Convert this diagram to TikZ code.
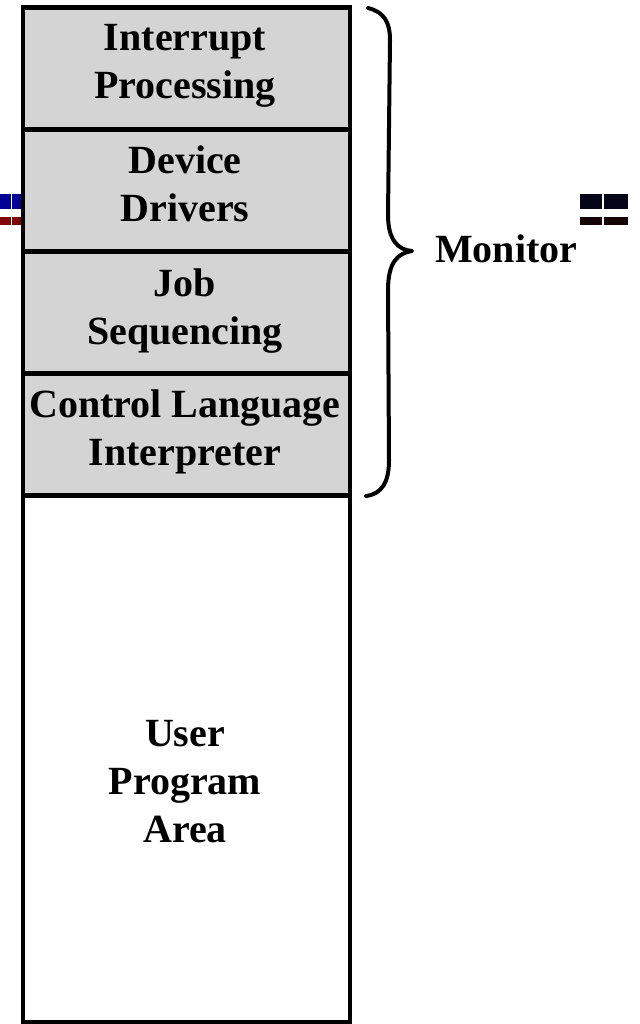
\documentclass[tikz,border=0pt]{standalone}
\usepackage{fontspec}
\setmainfont{Liberation Serif}
\begin{document}
\begin{tikzpicture}[x=1pt,y=-1pt,
  layer/.style={draw=black,line width=4.5pt,fill=cellgray,minimum width=327pt,inner sep=0pt,outer sep=0pt,anchor=north},
  usr/.style={draw=black,line width=4.5pt,fill=white,minimum width=327pt,inner sep=0pt,outer sep=0pt,anchor=north},
  lbl/.style={font=\fontsize{40}{48}\selectfont\bfseries,align=center,inner sep=0pt},
  bracestroke/.style={line width=4pt,line cap=round,line join=round}]
\definecolor{cellgray}{RGB}{212,212,212}
\definecolor{markblue}{RGB}{0,0,150}
\definecolor{markred}{RGB}{130,0,0}
\definecolor{marknavy}{RGB}{5,5,25}
\definecolor{markbrown}{RGB}{22,5,5}
\useasboundingbox (0,0) rectangle (639,1024);
\fill[white] (0,0) rectangle (639,1024);
% small colour bars at both sides
\fill[markblue] (0,194) rectangle (11,209);
\fill[markblue] (12,194) rectangle (22,209);
\fill[markred] (0,217) rectangle (11,225);
\fill[markred] (12,217) rectangle (22,225);
\fill[marknavy] (580,194) rectangle (602,209);
\fill[marknavy] (604,194) rectangle (628,209);
\fill[markbrown] (580,217) rectangle (602,225);
\fill[markbrown] (604,217) rectangle (628,225);
% memory layout
\node[usr,minimum height=527pt] (user) at (186.5,495.5) {};
\node[layer,minimum height=122pt] (intr) at (186.5,7.5) {};
\node[layer,minimum height=122pt] (drv) at (186.5,129.5) {};
\node[layer,minimum height=122pt] (job) at (186.5,251.5) {};
\node[layer,minimum height=122pt] (cli) at (186.5,373.5) {};
\node[lbl] (intrtext) at (185,66) {Interrupt\\Processing};
\node[lbl] (drvtext) at (185,183.5) {Device\\Drivers};
\node[lbl] (jobtext) at (185,311.5) {Job\\Sequencing};
\node[lbl] (clitext) at (185,431.5) {Control Language\\Interpreter};
\node[lbl] (usertext) at (185,782) {User\\Program\\Area};
% brace spanning the monitor
\coordinate (btop) at (368,8);
\coordinate (bbot) at (366,496);
\coordinate (btip) at (412,251);
\draw[bracestroke] (btop) .. controls (384,12) and (390,22) .. (390,40)
  -- (388,215) .. controls (388,240) and (398,250) .. (btip)
  .. controls (398,253) and (388,262) .. (388,290)
  -- (389,460) .. controls (389,482) and (382,494) .. (bbot);
\node[lbl,anchor=west] (mon) at (435,249) {Monitor};
\end{tikzpicture}
\end{document}
